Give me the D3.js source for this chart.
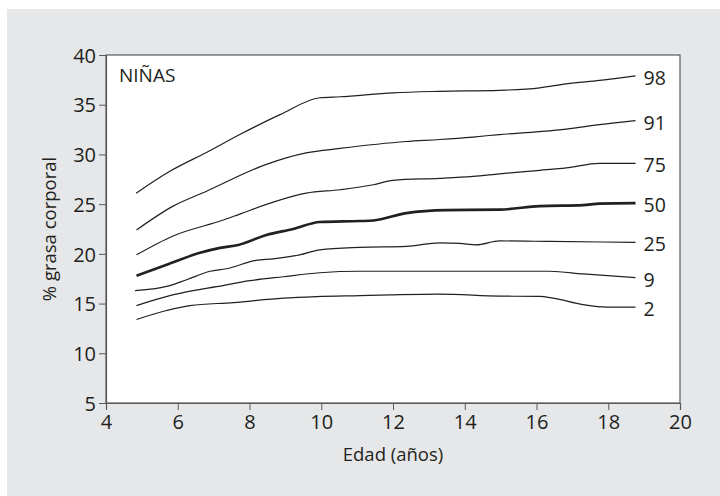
<!DOCTYPE html>
<meta charset="utf-8">
<div id="chart"></div>
<style>
body { margin: 0; background: #fff; font-family: 'Open Sans', sans-serif; }
svg text { fill: #231f20; }
</style>
<script src="https://d3js.org/d3.v7.min.js"></script>
<script>
// percentile curves, [edad, % grasa]
var p98 = [[4.84,26.1],[5.78,28.3],[6.8,30.2],[7.73,32.0],[8.85,34.0],[9.96,35.7],[10.52,35.8],[12.0,36.2],[13.3,36.35],[14.97,36.45],[16.09,36.7],[16.83,37.1],[17.76,37.45],[18.76,37.9]];
var p91 = [[4.85,22.4],[5.87,24.8],[6.8,26.3],[8.47,29.0],[9.58,30.15],[10.52,30.6],[12.37,31.3],[13.3,31.5],[14.23,31.75],[14.97,32.0],[16.09,32.3],[16.83,32.55],[17.76,33.0],[18.76,33.4]];
var p75 = [[4.85,19.9],[5.87,21.8],[7.27,23.4],[7.73,24.0],[8.66,25.2],[9.58,26.1],[10.52,26.45],[11.45,26.95],[12.0,27.4],[13.3,27.6],[14.23,27.8],[14.97,28.05],[16.09,28.4],[16.83,28.65],[17.76,29.1],[18.76,29.1]];
var p50 = [[4.85,17.8],[5.69,18.9],[6.62,20.1],[7.18,20.6],[7.69,20.9],[8.47,21.9],[9.22,22.5],[9.96,23.2],[11.07,23.3],[11.45,23.35],[12.37,24.1],[13.49,24.4],[14.97,24.45],[16.09,24.8],[17.3,24.9],[17.76,25.05],[18.76,25.1]];
var p25 = [[4.81,16.3],[5.78,16.8],[6.25,17.4],[6.9,18.25],[7.36,18.5],[8.18,19.35],[8.66,19.5],[9.4,19.9],[9.96,20.4],[11.07,20.65],[12.37,20.75],[13.3,21.1],[13.86,21.05],[14.32,20.9],[14.97,21.3],[16.37,21.25],[18.76,21.15]];
var p9 = [[4.85,14.8],[5.78,15.8],[6.43,16.3],[7.08,16.7],[8.01,17.3],[8.94,17.7],[9.96,18.1],[11.07,18.25],[14.97,18.25],[16.37,18.25],[17.3,17.98],[18.76,17.6]];
var p2 = [[4.85,13.4],[5.69,14.3],[6.34,14.8],[7.55,15.1],[8.94,15.55],[9.87,15.7],[11.07,15.8],[11.91,15.87],[13.3,15.95],[14.97,15.75],[16.09,15.72],[16.46,15.55],[17.3,14.9],[17.95,14.65],[18.76,14.65]];

var percentiles = ['98','91','75','50','25','9','2'];
var curves = [p98, p91, p75, p50, p25, p9, p2];
var xTicks = [4,6,8,10,12,14,16,18,20];
var yTicks = [5,10,15,20,25,30,35,40];

var W = 720, H = 496;
var mLeft = 106, mRight = 680, mTop = 55, mBottom = 403;

var x = d3.scaleLinear().domain([4,20]).range([mLeft,mRight]);
var y = d3.scaleLinear().domain([5,40]).range([mBottom,mTop]);

var svg = d3.select('#chart').append('svg')
  .attr('width', W).attr('height', H);

// gray panel
svg.append('rect')
  .attr('x', 7).attr('y', 9)
  .attr('width', W-7).attr('height', H-9)
  .attr('fill', '#e6e7e8');

// plot box
svg.append('rect')
  .attr('x', mLeft).attr('y', mTop)
  .attr('width', mRight-mLeft).attr('height', mBottom-mTop)
  .attr('fill', '#fff')
  .attr('stroke', '#58595b')
  .attr('stroke-width', 1.2);

var xAxis = svg.append('g')
  .attr('transform', 'translate(0,' + mBottom + ')')
  .call(d3.axisBottom(x).tickValues(xTicks).tickSize(7).tickPadding(3));
var yAxis = svg.append('g')
  .attr('transform', 'translate(' + mLeft + ',0)')
  .call(d3.axisLeft(y).tickValues(yTicks).tickSize(7).tickPadding(3));

[xAxis, yAxis].forEach(function(g){
  g.select('.domain').attr('stroke', '#58595b').attr('stroke-width', 1.2);
  g.selectAll('.tick line').attr('stroke', '#58595b').attr('stroke-width', 1);
  g.selectAll('.tick text')
    .style('font-family', "'Open Sans', sans-serif")
    .style('font-size', '20px')
    .style('fill', '#231f20');
});
yAxis.selectAll('.tick text').attr('dy', '0.36em');
xAxis.selectAll('.tick text').attr('dy', '0.78em');

var line = d3.line()
  .x(function(d){ return x(d[0]); })
  .y(function(d){ return y(d[1]); })
  .curve(d3.curveMonotoneX);

svg.selectAll('path.curve')
  .data(curves)
  .enter()
  .append('path')
  .attr('class', 'curve')
  .attr('d', line)
  .attr('fill', 'none')
  .attr('stroke', '#231f20')
  .attr('stroke-width', function(d,i){ return percentiles[i] === '50' ? 2.6 : 1.2; });

svg.selectAll('text.plab')
  .data(curves)
  .enter()
  .append('text')
  .attr('class', 'plab')
  .attr('x', function(d){ return x(d[d.length-1][0]) + 8; })
  .attr('y', function(d){ return y(d[d.length-1][1]) + 2; })
  .attr('dy', '0.36em')
  .style('font-size', '19.5px')
  .text(function(d,i){ return percentiles[i]; });

svg.append('text')
  .attr('x', 119).attr('y', 82)
  .style('font-size', '19px')
  .text('NIÑAS');

svg.append('text')
  .attr('x', (mLeft+mRight)/2).attr('y', 461)
  .attr('text-anchor', 'middle')
  .style('font-size', '18.5px')
  .text('Edad (años)');

svg.append('text')
  .attr('transform', 'translate(56,' + ((mTop+mBottom)/2) + ') rotate(-90)')
  .attr('text-anchor', 'middle')
  .style('font-size', '18.5px')
  .text('% grasa corporal');
</script>
